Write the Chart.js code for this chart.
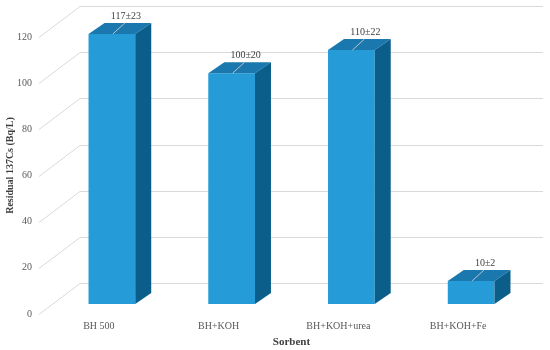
<!DOCTYPE html>
<html>
<head>
<meta charset="utf-8">
<script src="https://cdn.jsdelivr.net/npm/chart.js@4"></script>
<style>
  html, body { margin: 0; padding: 0; background: #fff; }
  #wrap { width: 550px; height: 350px; }
</style>
</head>
<body>
<div id="wrap"><canvas id="barChart" width="550" height="350"></canvas></div>
<script>
var sorbents = ["BH 500", "BH+KOH", "BH+KOH+urea", "BH+KOH+Fe"];
var residual = [117, 100, 110, 10];
var errors = [23, 20, 22, 2];
var yTicks = [0, 20, 40, 60, 80, 100, 120];

var serif = "'Liberation Serif', 'Times New Roman', serif";
var DX = 16, DY = 11;          // bar depth
var WALL_DX = 28, WALL_DY = 21; // back wall offset
var FRONT_DX = 13, FRONT_DY = 10;

var box3d = {
	id: 'box3d',
	beforeDatasetsDraw: function(chart) {
		var c = chart.ctx, y = chart.scales.y, a = chart.chartArea;
		c.save();
		c.strokeStyle = '#d9d9d9';
		c.lineWidth = 1;
		yTicks.forEach(function(v) {
			var py = Math.round(y.getPixelForValue(v)) + 0.5;
			c.beginPath();
			c.moveTo(a.left - FRONT_DX, py + FRONT_DY);
			c.lineTo(a.left + WALL_DX, py - WALL_DY);
			c.lineTo(a.right + 12, py - WALL_DY);
			c.stroke();
		});
		c.restore();
	},
	afterDatasetsDraw: function(chart) {
		var c = chart.ctx;
		c.save();
		chart.getDatasetMeta(0).data.forEach(function(bar, i) {
			var l = bar.x - bar.width / 2, r = bar.x + bar.width / 2;
			var t = bar.y, b = bar.base;
			c.fillStyle = '#1a78ae';
			c.beginPath();
			c.moveTo(l, t); c.lineTo(r, t); c.lineTo(r + DX, t - DY); c.lineTo(l + DX, t - DY);
			c.closePath(); c.fill();
			c.fillStyle = '#0b5e89';
			c.beginPath();
			c.moveTo(r, t); c.lineTo(r + DX, t - DY); c.lineTo(r + DX, b - DY); c.lineTo(r, b);
			c.closePath(); c.fill();
			// leader line and label
			c.strokeStyle = '#b8c4cc';
			c.lineWidth = 1;
			c.beginPath();
			c.moveTo(bar.x + 1, t); c.lineTo(bar.x + 13, t - 11);
			c.stroke();
			c.fillStyle = '#404040';
			c.font = '10px ' + serif;
			c.textAlign = 'center';
			c.textBaseline = 'middle';
			c.fillText(residual[i] + '\u00b1' + errors[i], bar.x + 14, t - 18);
		});
		c.restore();
	}
};

var ctx = document.getElementById("barChart").getContext("2d");
var myChart = new Chart(ctx, {
	type: 'bar',
	data: {
		labels: sorbents,
		datasets: [{
			data: residual,
			backgroundColor: '#259bd7',
			borderWidth: 0,
			categoryPercentage: 1,
			barPercentage: 0.39
		}]
	},
	options: {
		responsive: false,
		animation: false,
		layout: {
			padding: { left: 0, right: 19, top: 27, bottom: 0 }
		},
		plugins: {
			legend: { display: false },
			tooltip: { enabled: false }
		},
		scales: {
			x: {
				grid: { display: false, drawTicks: false },
				border: { display: false },
				ticks: {
					color: '#595959',
					font: { family: serif, size: 10 },
					padding: 16,
					labelOffset: -13,
					maxRotation: 0
				},
				title: {
					display: true,
					text: 'Sorbent',
					color: '#404040',
					font: { family: serif, size: 11, weight: 'bold' },
					padding: { top: 0, bottom: 1 }
				},
				afterFit: function(s) { s.height = 46; }
			},
			y: {
				min: 0,
				max: 120,
				grid: { display: false, drawTicks: false },
				border: { display: false },
				ticks: {
					stepSize: 20,
					color: '#595959',
					font: { family: serif, size: 10 },
					padding: 20,
					labelOffset: 10
				},
				title: {
					display: true,
					text: 'Residual 137Cs (Bq/L)',
					color: '#404040',
					font: { family: serif, size: 10, weight: 'bold' },
					padding: { top: 4, bottom: 4 }
				},
				afterFit: function(s) { s.width = 52; }
			}
		}
	},
	plugins: [box3d]
});
</script>
</body>
</html>
